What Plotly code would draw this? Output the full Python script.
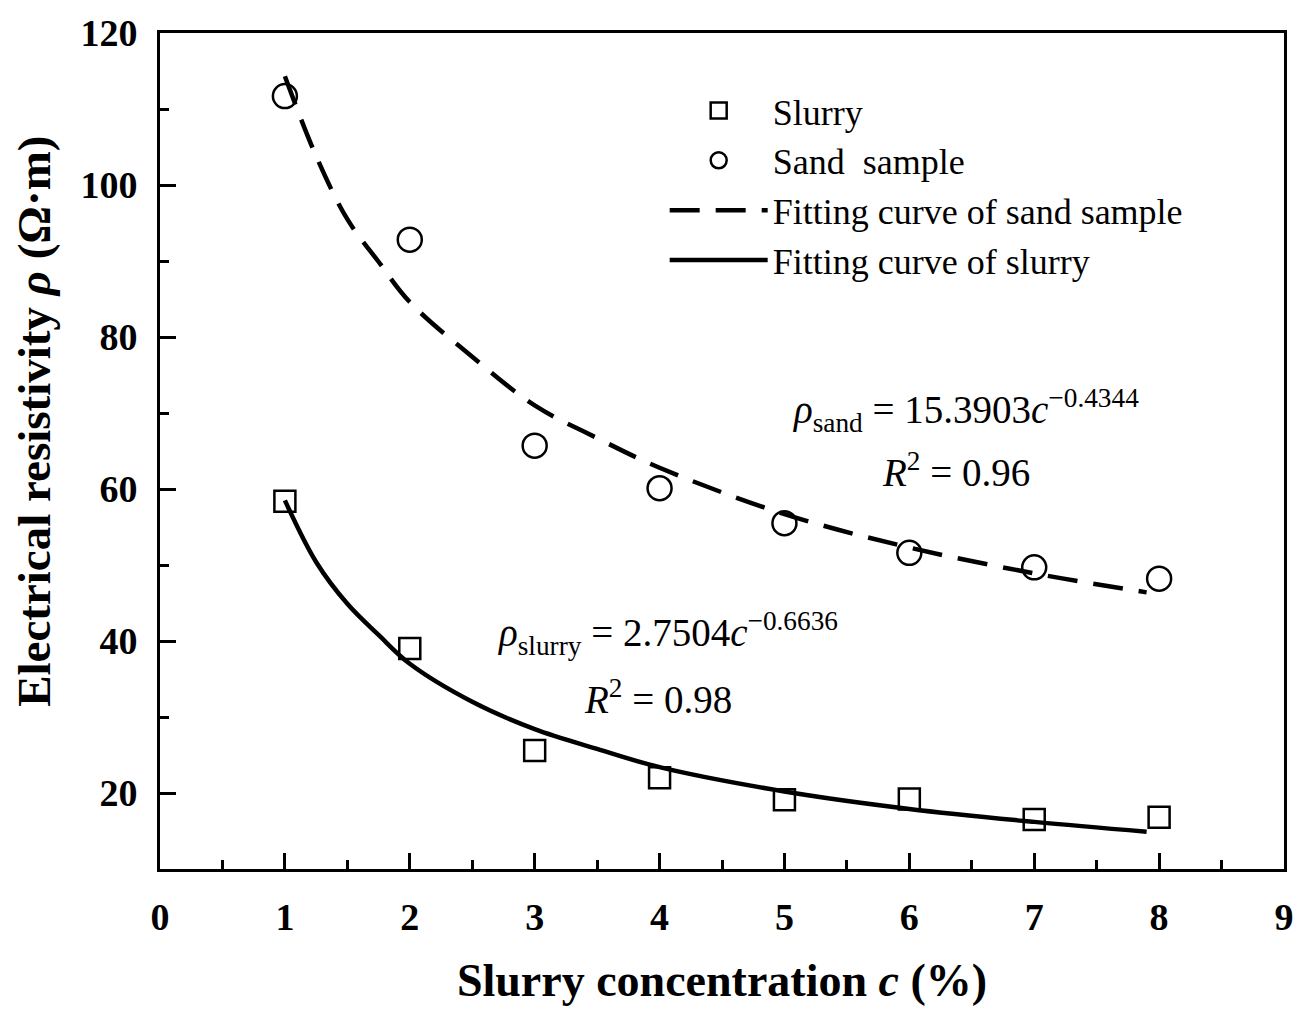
import plotly.graph_objects as go

# Measured data
conc = [1, 2, 3, 4, 5, 6, 7, 8]
slurry = [58.4, 39.0, 25.6, 22.0, 19.1, 19.2, 16.5, 16.8]
sand = [111.7, 92.8, 65.7, 60.1, 55.5, 51.6, 49.7, 48.2]

# Fitting curves
fit_x = [1, 1.25, 1.5, 1.75, 2, 2.5, 3, 3.5, 4, 5, 6, 7, 7.9]
fit_sand = [114.3, 103.8, 95.5, 89.9, 84.6, 77.4, 71.0, 66.7, 62.8, 56.7, 52.3, 48.9, 46.4]
fit_slurry = [58.5, 50.4, 44.9, 40.8, 37.0, 32.0, 28.4, 25.8, 23.4, 20.2, 17.9, 16.2, 14.9]

x_ticks = [0, 1, 2, 3, 4, 5, 6, 7, 8, 9]
y_ticks = [20, 40, 60, 80, 100, 120]

SERIF = "Liberation Serif, Times New Roman, serif"

fig = go.Figure()
fig.add_trace(go.Scatter(x=conc, y=slurry, mode="markers", name="Slurry",
                         marker=dict(symbol="square-open", size=21, color="black",
                                     line=dict(width=2.5, color="black"))))
fig.add_trace(go.Scatter(x=conc, y=sand, mode="markers", name="Sand  sample",
                         marker=dict(symbol="circle-open", size=24, color="black",
                                     line=dict(width=2.5, color="black"))))
fig.add_trace(go.Scatter(x=fit_x, y=fit_sand, mode="lines", name="Fitting curve of sand sample",
                         line=dict(color="black", width=4.5, dash="30px,16px", shape="spline")))
fig.add_trace(go.Scatter(x=fit_x, y=fit_slurry, mode="lines", name="Fitting curve of slurry",
                         line=dict(color="black", width=4.5, shape="spline")))

ANN = dict(family=SERIF, size=39, color="black")
fig.add_annotation(x=6.45, y=70.3, xref="x", yref="y",
                   text="<i>ρ</i><sub>sand</sub> = 15.3903<i>c</i><sup>−0.4344</sup>",
                   showarrow=False, font=ANN)
fig.add_annotation(x=6.37, y=62.5, xref="x", yref="y",
                   text="<i>R</i><sup>2</sup> = 0.96",
                   showarrow=False, font=ANN)
fig.add_annotation(x=4.07, y=41.0, xref="x", yref="y",
                   text="<i>ρ</i><sub>slurry</sub> = 2.7504<i>c</i><sup>−0.6636</sup>",
                   showarrow=False, font=ANN)
fig.add_annotation(x=3.99, y=32.6, xref="x", yref="y",
                   text="<i>R</i><sup>2</sup> = 0.98",
                   showarrow=False, font=ANN)

# y-axis title
fig.add_annotation(x=-0.112, y=0.535, xref="paper", yref="paper",
                   xanchor="center", yanchor="middle", textangle=-90,
                   text="Electrical resistivity <i>ρ</i> (Ω·m)", showarrow=False,
                   font=dict(family=SERIF, size=47, color="black", weight="bold"))

fig.update_layout(
    width=1306, height=1010,
    margin=dict(l=160, r=19, t=28, b=137),
    plot_bgcolor="white", paper_bgcolor="white",
    showlegend=True,
    legend=dict(x=0.449, y=0.943, xanchor="left", yanchor="top",
                font=dict(family=SERIF, size=36, color="black"),
                bgcolor="rgba(0,0,0,0)", itemwidth=98, tracegroupgap=0),
    xaxis=dict(range=[0, 9], tickvals=x_ticks, ticks="inside", ticklen=16, tickwidth=2.5,
               tickcolor="black", showline=True, linecolor="black", linewidth=3,
               mirror=True, showgrid=False, zeroline=False,
               minor=dict(ticks="inside", ticklen=9, tickwidth=2.5, tickcolor="black",
                          dtick=0.5, tick0=0, showgrid=False),
               tickfont=dict(family=SERIF, size=38, color="black", weight="bold"),
               ticklabelstandoff=12,
               title=dict(text="Slurry concentration <i>c</i> (%)", standoff=28,
                          font=dict(family=SERIF, size=46, color="black", weight="bold"))),
    yaxis=dict(range=[10, 120], tickvals=y_ticks, ticks="inside", ticklen=16, tickwidth=2.5,
               tickcolor="black", showline=True, linecolor="black", linewidth=3,
               mirror=True, showgrid=False, zeroline=False,
               minor=dict(ticks="inside", ticklen=9, tickwidth=2.5, tickcolor="black",
                          dtick=10, tick0=0, showgrid=False),
               tickfont=dict(family=SERIF, size=38, color="black", weight="bold"),
               ticklabelstandoff=12),
)

fig.write_html("out.html")
